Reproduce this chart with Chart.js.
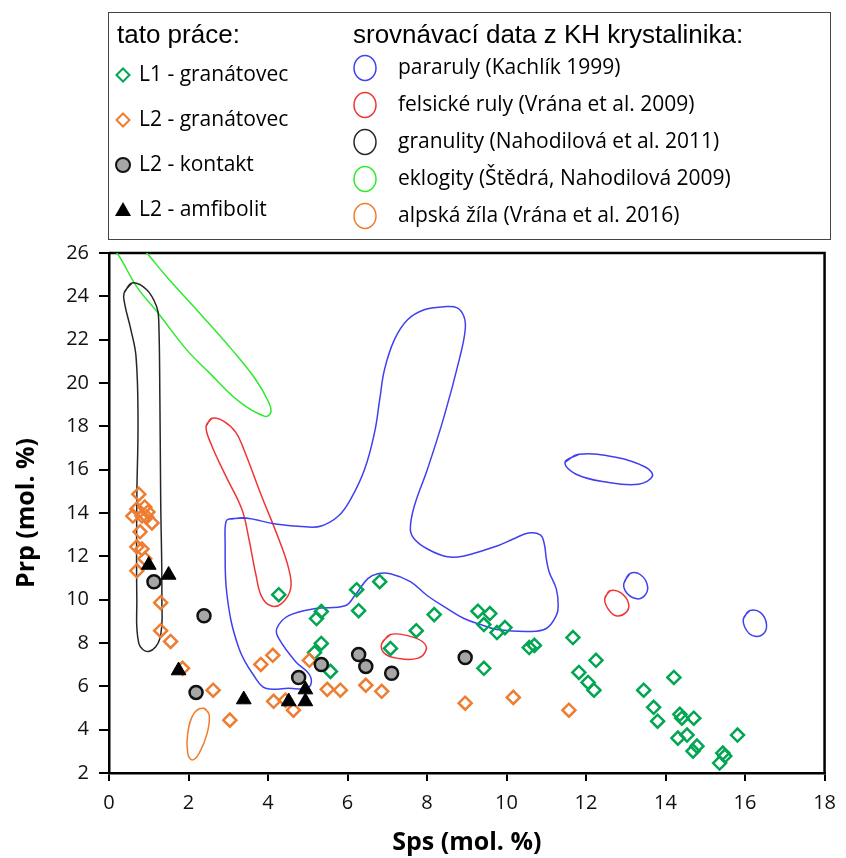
<!DOCTYPE html>
<html lang="cs">
<head>
<meta charset="utf-8">
<title>Prp vs Sps</title>
<script src="https://cdn.jsdelivr.net/npm/chart.js@4.4.1/dist/chart.umd.min.js"></script>
<style>
  html, body { margin: 0; padding: 0; background: #fff; }
  canvas { display: block; }
</style>
</head>
<body>
<canvas id="chart" width="846" height="858"></canvas>
<script>
// [Sps, Prp] in mol. %
const l1Granatovec = [[4.27,10.23],[6.23,10.46],[6.81,10.83],[6.28,9.49],[5.34,9.45],[5.22,9.13],[8.18,9.31],
  [7.73,8.57],[7.08,7.75],[5.34,7.98],[5.17,7.56],[5.57,6.69],[9.28,9.47],[9.58,9.36],[9.43,8.85],[9.76,8.48],
  [9.96,8.71],[10.57,7.79],[10.70,7.89],[9.43,6.83],[11.67,8.25],[12.25,7.20],[11.82,6.64],[12.05,6.18],
  [12.20,5.82],[13.45,5.82],[14.21,6.41],[13.70,5.03],[13.80,4.39],[14.36,4.71],[14.41,4.53],[14.71,4.53],
  [14.54,3.75],[14.31,3.61],[14.79,3.24],[14.69,3.01],[15.44,2.92],[15.49,2.78],[15.36,2.46],[15.81,3.75]];

const l2Granatovec = [[0.75,14.87],[0.70,14.18],[0.60,13.86],[0.90,14.28],[0.98,14.05],[0.83,13.86],[0.95,13.82],
  [1.08,13.54],[0.78,13.13],[0.70,12.44],[0.83,12.34],[0.90,11.89],[0.70,11.33],[1.30,9.86],[1.30,8.57],
  [1.55,8.07],[1.85,6.83],[2.62,5.82],[3.04,4.44],[3.82,7.01],[4.12,7.43],[4.14,5.31],[4.44,5.36],[4.64,4.90],
  [5.04,7.20],[5.49,5.86],[5.82,5.82],[6.46,6.05],[6.86,5.77],[8.96,5.22],[10.17,5.49],[11.57,4.90]];

const l2Kontakt = [[1.13,10.83],[2.39,9.26],[2.19,5.72],[4.77,6.41],[5.34,7.01],[6.28,7.47],[6.46,6.92],
  [7.11,6.60],[8.96,7.33]];

const l2Amfibolit = [[1.00,11.60],[1.50,11.14],[1.75,6.73],[3.39,5.39],[4.52,5.30],[4.94,5.30],[4.94,5.85]];

// comparison fields (outlines)
const pararulyMain = [[3.02,13.72],[3.44,13.77],[4.19,13.49],[4.94,13.36],[5.34,13.40],[5.77,13.86],[6.08,14.64],
  [6.43,16.02],[6.68,17.72],[6.81,19.24],[6.93,20.62],[7.18,22.00],[7.51,22.92],[7.93,23.38],[8.43,23.52],
  [8.76,23.47],[8.93,23.06],[8.96,22.46],[8.83,21.22],[8.43,18.46],[8.01,16.02],[7.68,14.32],[7.58,13.26],
  [7.68,12.80],[8.01,12.34],[8.51,11.98],[8.93,12.02],[9.76,12.48],[10.17,12.80],[10.55,13.08],[10.85,12.99],
  [10.95,12.57],[11.00,11.89],[11.07,11.29],[11.25,10.51],[11.30,9.72],[11.25,9.26],[11.00,8.67],[10.57,8.53],
  [9.76,8.62],[9.43,8.80],[8.93,9.13],[8.51,9.59],[8.01,10.18],[7.58,10.83],[7.08,11.20],[6.76,11.20],
  [6.51,10.97],[6.18,10.18],[5.94,9.72],[5.19,9.59],[4.52,9.26],[4.22,8.67],[4.27,8.21],[4.69,7.15],
  [5.02,6.60],[5.09,6.18],[4.97,5.91],[4.52,5.91],[3.94,5.91],[3.69,6.37],[3.27,7.75],[2.97,10.18],
  [2.92,12.80],[2.94,13.59]];
const pararulyOval = [[11.47,16.34],[11.82,16.71],[12.75,16.57],[13.50,16.11],[13.67,15.70],[13.32,15.33],
  [12.50,15.43],[11.75,15.79]];
const pararulySmall1 = [[12.95,10.74],[13.10,11.20],[13.37,11.15],[13.55,10.60],[13.45,10.14],[13.25,10.05],[13.02,10.32]];
const pararulySmall2 = [[15.96,9.13],[16.11,9.49],[16.39,9.40],[16.54,8.85],[16.44,8.39],[16.19,8.34],[16.01,8.67]];

const felsickeMain = [[2.44,18.00],[2.59,18.37],[2.89,18.23],[3.19,17.72],[3.39,16.94],[3.82,14.87],[4.27,12.80],
  [4.52,11.43],[4.57,10.51],[4.34,9.82],[4.07,9.72],[3.84,10.14],[3.69,11.20],[3.52,12.80],[3.34,14.18],
  [2.94,15.70],[2.57,17.17]];
const felsickeSmall1 = [[6.86,7.98],[7.08,8.39],[7.51,8.34],[7.88,8.07],[7.98,7.70],[7.76,7.29],[7.26,7.29],[6.93,7.52]];
const felsickeSmall2 = [[12.47,10.05],[12.60,10.41],[12.87,10.32],[13.07,9.82],[13.00,9.40],[12.75,9.26],[12.55,9.59]];

const granulity = [[0.38,24.16],[0.58,24.62],[0.95,24.30],[1.20,23.52],[1.25,22.92],[1.28,19.24],[1.30,14.64],
  [1.33,10.05],[1.28,8.21],[1.00,7.61],[0.75,7.98],[0.70,10.05],[0.70,14.64],[0.73,18.32],[0.68,21.22],
  [0.55,22.46],[0.40,23.61]];

// runs off the top-left corner of the plot
const eklogity = [[-0.35,28.60],[0.95,26.00],[1.45,24.90],[2.27,23.24],[3.09,21.54],[3.69,20.16],[4.02,19.10],
  [4.07,18.64],[3.92,18.46],[3.27,19.15],[2.52,20.48],[1.95,21.54],[1.23,23.24],[0.70,24.44],[0.20,26.00],
  [-0.85,28.40]];

const alpskaZila = [[2.39,4.99],[2.52,4.71],[2.47,3.84],[2.27,2.92],[2.09,2.60],[1.98,2.92],[1.98,3.84],[2.14,4.76]];

const ownLabels = ['L1 - granátovec', 'L2 - granátovec', 'L2 - kontakt', 'L2 - amfibolit'];
const fieldLabels = ['pararuly (Kachlík 1999)', 'felsické ruly (Vrána et al. 2009)',
  'granulity (Nahodilová et al. 2011)', 'eklogity (Štědrá, Nahodilová 2009)', 'alpská žíla (Vrána et al. 2016)'];

const GREEN = '#00A651', ORANGE = '#ED7D31';
const fieldColors = ['#4040F0', '#F03535', '#262626', '#2EEA2E', '#F07C2C'];

function pts(arr) { return arr.map(p => ({ x: p[0], y: p[1] })); }
// closed outline: go round once more past the start so the join is smooth
function loop(arr) { return pts(arr.concat([arr[0], arr[1]])); }

function outline(arr, color) {
  return {
    data: loop(arr), showLine: true, borderColor: color, borderWidth: 1.5,
    pointRadius: 0, tension: 0.4, fill: false, order: 10
  };
}

const datasets = [
  outline(pararulyMain, fieldColors[0]),
  outline(pararulyOval, fieldColors[0]),
  outline(pararulySmall1, fieldColors[0]),
  outline(pararulySmall2, fieldColors[0]),
  outline(felsickeMain, fieldColors[1]),
  outline(felsickeSmall1, fieldColors[1]),
  outline(felsickeSmall2, fieldColors[1]),
  outline(granulity, fieldColors[2]),
  outline(eklogity, fieldColors[3]),
  outline(alpskaZila, fieldColors[4]),
  { label: ownLabels[0], data: pts(l1Granatovec), pointStyle: 'rectRot', pointRadius: 6.5,
    borderColor: GREEN, backgroundColor: 'rgba(255,255,255,0)', pointBorderWidth: 2.5, order: 4 },
  { label: ownLabels[1], data: pts(l2Granatovec), pointStyle: 'rectRot', pointRadius: 6.5,
    borderColor: ORANGE, backgroundColor: 'rgba(255,255,255,0)', pointBorderWidth: 2.5, order: 3 },
  { label: ownLabels[2], data: pts(l2Kontakt), pointStyle: 'circle', pointRadius: 6.5,
    borderColor: '#111', backgroundColor: '#A6A6A6', pointBorderWidth: 2.5, order: 2 },
  { label: ownLabels[3], data: pts(l2Amfibolit), pointStyle: 'triangle', pointRadius: 8.5,
    borderColor: '#000', backgroundColor: '#000', pointBorderWidth: 1, order: 1 }
];

// frame on top and right of the plot
const framePlugin = {
  id: 'frame',
  beforeDatasetsDraw(chart) {
    const { ctx, chartArea: a } = chart;
    ctx.save();
    ctx.strokeStyle = '#000';
    ctx.lineWidth = 2.5;
    ctx.beginPath();
    ctx.moveTo(a.left, a.top);
    ctx.lineTo(a.right, a.top);
    ctx.lineTo(a.right, a.bottom);
    ctx.stroke();
    ctx.restore();
  }
};

// boxed legend with two columns
const boxLegend = {
  id: 'boxLegend',
  afterDraw(chart) {
    const ctx = chart.ctx;
    ctx.save();
    ctx.strokeStyle = '#444';
    ctx.lineWidth = 1;
    ctx.strokeRect(108.5, 12.5, 722, 227);

    ctx.fillStyle = '#000';
    ctx.textBaseline = 'middle';
    ctx.font = '26px "Liberation Sans", Arial, sans-serif';
    ctx.fillText('tato práce:', 117, 36);
    ctx.fillText('srovnávací data z KH krystalinika:', 353, 36);

    ctx.font = '21px "Open Sans", sans-serif';
    ownLabels.forEach((txt, i) => {
      const y = 75 + i * 45, x = 123;
      ctx.save();
      if (i < 2) {
        ctx.strokeStyle = i === 0 ? GREEN : ORANGE;
        ctx.lineWidth = 2;
        ctx.beginPath();
        ctx.moveTo(x - 6.5, y); ctx.lineTo(x, y - 6.5); ctx.lineTo(x + 6.5, y); ctx.lineTo(x, y + 6.5);
        ctx.closePath();
        ctx.stroke();
      } else if (i === 2) {
        ctx.fillStyle = '#A6A6A6';
        ctx.strokeStyle = '#111';
        ctx.lineWidth = 2;
        ctx.beginPath();
        ctx.arc(x, y, 7, 0, Math.PI * 2);
        ctx.fill();
        ctx.stroke();
      } else {
        ctx.fillStyle = '#000';
        ctx.beginPath();
        ctx.moveTo(x, y - 8); ctx.lineTo(x + 8, y + 6); ctx.lineTo(x - 8, y + 6);
        ctx.closePath();
        ctx.fill();
      }
      ctx.restore();
      ctx.fillText(txt, 139, y);
    });

    fieldLabels.forEach((txt, i) => {
      const y = 68 + i * 37;
      ctx.save();
      ctx.strokeStyle = fieldColors[i];
      ctx.lineWidth = 1.5;
      ctx.beginPath();
      ctx.ellipse(365, y, 11, 12.5, 0, 0, Math.PI * 2);
      ctx.stroke();
      ctx.restore();
      ctx.fillText(txt, 398, y);
    });
    ctx.restore();
  }
};

const tickFont = { family: '"Open Sans", sans-serif', size: 20 };
const titleFont = { family: '"Open Sans", sans-serif', size: 25, weight: 'bold' };

new Chart(document.getElementById('chart'), {
  type: 'scatter',
  data: { datasets: datasets },
  options: {
    responsive: false,
    animation: false,
    events: [],
    layout: { padding: { top: 253, right: 15, bottom: 0, left: 0 } },
    plugins: { legend: { display: false }, tooltip: { enabled: false } },
    scales: {
      x: {
        type: 'linear', min: 0, max: 18,
        ticks: { stepSize: 2, font: tickFont, color: '#111', padding: 10 },
        grid: { drawOnChartArea: false, drawTicks: true, tickLength: 8, color: '#000', lineWidth: 2 },
        border: { color: '#000', width: 2.5 },
        title: { display: true, text: 'Sps (mol. %)', font: titleFont, color: '#000', padding: { top: 0, bottom: 0 } },
        afterFit(scale) { scale.height = 85; }
      },
      y: {
        type: 'linear', min: 2, max: 26,
        ticks: { stepSize: 2, font: tickFont, color: '#111', padding: 10 },
        grid: { drawOnChartArea: false, drawTicks: true, tickLength: 10, color: '#000', lineWidth: 2 },
        border: { color: '#000', width: 2.5 },
        title: { display: true, text: 'Prp (mol. %)', font: titleFont, color: '#000', padding: { top: 12, bottom: 0 } },
        afterFit(scale) { scale.width = 109; }
      }
    }
  },
  plugins: [framePlugin, boxLegend]
});
</script>
</body>
</html>
